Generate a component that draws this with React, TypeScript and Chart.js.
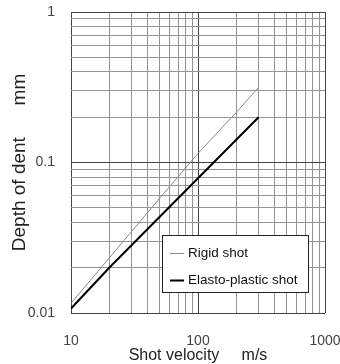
import React, { useEffect, useRef } from "react";
import { Chart, registerables } from "chart.js";

Chart.register(...registerables);

const velocity = [10, 20, 50, 100, 200, 300];
const rigidDepth = [0.0116, 0.0232, 0.058, 0.115, 0.215, 0.316];
const elastoDepth = [0.0107, 0.02, 0.0436, 0.0786, 0.1416, 0.2];

const seriesLabels = ["Rigid shot", "Elasto-plastic shot"];

const xTicks = [10, 20, 30, 40, 50, 60, 70, 80, 90, 100, 200, 300, 400, 500, 600, 700, 800, 900, 1000];
const yTicks = [0.01, 0.02, 0.03, 0.04, 0.05, 0.06, 0.07, 0.08, 0.09, 0.1, 0.2, 0.3, 0.4, 0.5, 0.6, 0.7, 0.8, 0.9, 1];
const xMajor = [10, 100, 1000];
const xMajorLabels = ["10", "100", "1000"];
const yMajor = [0.01, 0.1, 1];
const yMajorLabels = ["0.01", "0.1", "1"];

const xTitle = "Shot velocity     m/s";
const yTitle = "Depth of dent      mm";

function labelFor(v: number, majors: number[], labels: string[]) {
  for (let i = 0; i < majors.length; i++) {
    if (Math.abs(v - majors[i]) / majors[i] < 1e-6) return labels[i];
  }
  return "";
}

const legendBox = {
  id: "legendBox",
  afterDraw(chart: any) {
    const { ctx, chartArea } = chart;
    const left = chartArea.left + 91;
    const top = chartArea.top + 223;
    const w = 146;
    const h = 57;
    ctx.save();
    ctx.fillStyle = "#ffffff";
    ctx.fillRect(left, top, w, h);
    ctx.strokeStyle = "#222";
    ctx.lineWidth = 1;
    ctx.strokeRect(left + 0.5, top + 0.5, w, h);
    ctx.font = "13.5px 'Liberation Sans', Arial, sans-serif";
    ctx.textBaseline = "middle";
    ctx.fillStyle = "#111";
    chart.data.datasets.forEach((ds: any, i: number) => {
      const y = top + 18 + i * 27;
      ctx.strokeStyle = ds.borderColor;
      ctx.lineWidth = ds.borderWidth;
      ctx.beginPath();
      ctx.moveTo(left + 8, y + 0.5);
      ctx.lineTo(left + 22, y + 0.5);
      ctx.stroke();
      ctx.fillText(ds.label, left + 26, y);
    });
    ctx.restore();
  },
};

export default function App() {
  const ref = useRef<HTMLCanvasElement | null>(null);

  useEffect(() => {
    if (!ref.current) return;
    const chart = new Chart(ref.current, {
      type: "line",
      data: {
        datasets: [
          {
            label: seriesLabels[0],
            data: velocity.map((v, i) => ({ x: v, y: rigidDepth[i] })),
            borderColor: "#8a8a8a",
            borderWidth: 1,
            pointRadius: 0,
            tension: 0,
          },
          {
            label: seriesLabels[1],
            data: velocity.map((v, i) => ({ x: v, y: elastoDepth[i] })),
            borderColor: "#000000",
            borderWidth: 2,
            pointRadius: 0,
            tension: 0,
          },
        ],
      },
      options: {
        animation: false,
        responsive: false,
        devicePixelRatio: 1,
        layout: { padding: { left: 0, top: 12, right: 15, bottom: 0 } },
        plugins: { legend: { display: false }, tooltip: { enabled: false } },
        scales: {
          x: {
            type: "logarithmic",
            min: 10,
            max: 1000,
            afterBuildTicks: (scale: any) => {
              scale.ticks = xTicks.map((v) => ({ value: v }));
            },
            afterFit: (scale: any) => {
              scale.height = 51;
              scale.paddingLeft = 0;
              scale.paddingRight = 0;
            },
            border: { display: false },
            grid: {
              drawTicks: false,
              color: (c: any) => (labelFor(c.tick?.value, xMajor, xMajorLabels) ? "#444" : "#939393"),
              lineWidth: 1,
            },
            ticks: {
              autoSkip: false,
              maxRotation: 0,
              padding: 20,
              color: "#444",
              font: { family: "'Liberation Sans', Arial, sans-serif", size: 14 },
              callback: (v: any) => labelFor(Number(v), xMajor, xMajorLabels),
            },
            title: {
              display: true,
              text: xTitle,
              color: "#222",
              font: { family: "'Liberation Sans', Arial, sans-serif", size: 16, lineHeight: 1 },
              padding: { top: 0, bottom: 0 },
            },
          },
          y: {
            type: "logarithmic",
            min: 0.01,
            max: 1,
            afterBuildTicks: (scale: any) => {
              scale.ticks = yTicks.map((v) => ({ value: v }));
            },
            afterFit: (scale: any) => {
              scale.width = 71;
              scale.paddingTop = 0;
              scale.paddingBottom = 0;
            },
            border: { display: false },
            grid: {
              drawTicks: false,
              color: (c: any) => (labelFor(c.tick?.value, yMajor, yMajorLabels) ? "#444" : "#939393"),
              lineWidth: 1,
            },
            ticks: {
              autoSkip: false,
              padding: 16,
              color: "#444",
              font: { family: "'Liberation Sans', Arial, sans-serif", size: 14 },
              callback: (v: any) => labelFor(Number(v), yMajor, yMajorLabels),
            },
            title: {
              display: true,
              text: yTitle,
              color: "#222",
              font: { family: "'Liberation Sans', Arial, sans-serif", size: 19, lineHeight: 1 },
              padding: { top: 10, bottom: 0 },
            },
          },
        },
      },
      plugins: [legendBox],
    });
    return () => chart.destroy();
  }, []);

  return (
    <div style={{ position: "absolute", left: 0, top: 0, width: 340, height: 364, background: "#fff" }}>
      <canvas ref={ref} width={340} height={364} style={{ display: "block" }} />
    </div>
  );
}
